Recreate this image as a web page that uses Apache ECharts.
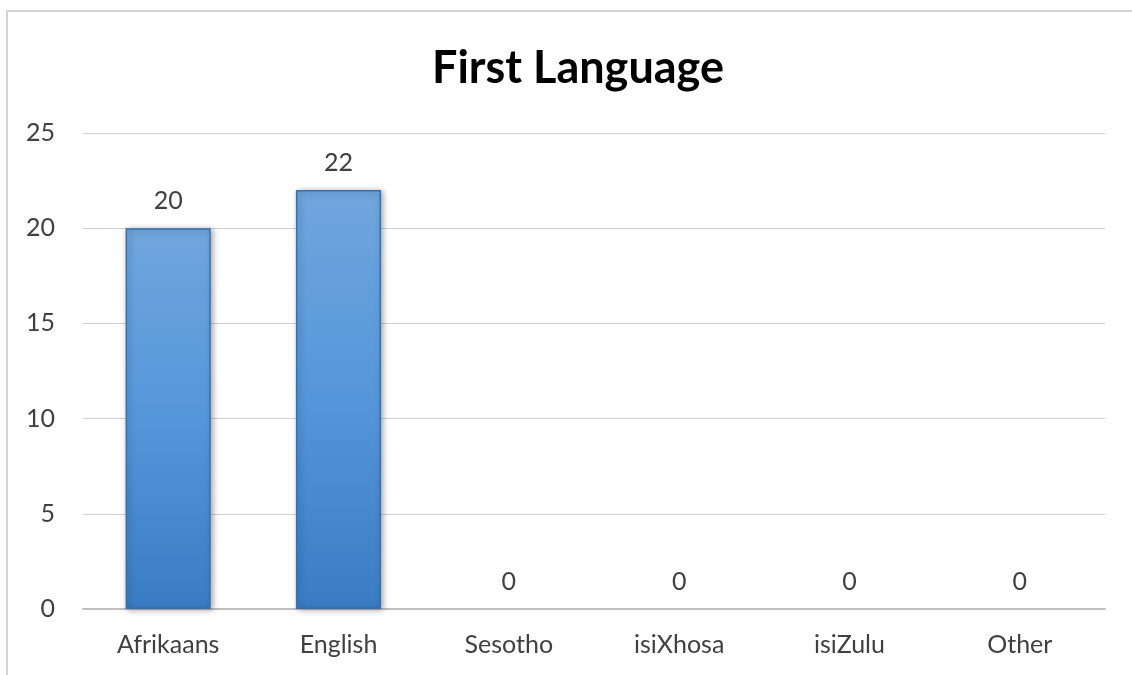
<!DOCTYPE html>
<html>
<head>
<meta charset="utf-8">
<script src="https://cdn.jsdelivr.net/npm/echarts@6/dist/echarts.min.js"></script>
<style>
  html, body { margin: 0; padding: 0; background: #fff; }
  #chart { width: 1132px; height: 675px; }
</style>
</head>
<body>
<div id="chart"></div>
<script>
// Respondents by first language
const titleText = 'First Language';
const languages = ['Afrikaans', 'English', 'Sesotho', 'isiXhosa', 'isiZulu', 'Other'];
const counts = [20, 22, 0, 0, 0, 0];
const yMin = 0;
const yMax = 25;
const yStep = 5;

const textColor = '#404040';
const fontFamily = 'Lato, "Open Sans", "Liberation Sans", sans-serif';

const barStyle = {
  color: new echarts.graphic.LinearGradient(0, 0, 0, 1, [
    { offset: 0, color: '#70a6dd' },
    { offset: 0.5, color: '#5596da' },
    { offset: 1, color: '#3a7cc4' }
  ]),
  borderColor: '#3a6fae',
  borderWidth: 1.5,
  shadowColor: 'rgba(0,0,0,0.35)',
  shadowBlur: 6,
  shadowOffsetX: 2,
  shadowOffsetY: 1
};

// Zero-height bars get no outline or shadow, so only their value label shows
const barData = counts.map(v => v === 0
  ? { value: v, itemStyle: { borderWidth: 0, shadowBlur: 0, shadowOffsetX: 0, shadowOffsetY: 0 } }
  : { value: v });

const chart = echarts.init(document.getElementById('chart'), null, { renderer: 'canvas' });

chart.setOption({
  backgroundColor: '#ffffff',
  animation: false,
  title: {
    text: titleText,
    left: 427,
    top: 41,
    textStyle: { fontFamily, fontSize: 45, fontWeight: 'bold', color: '#000000' }
  },
  graphic: [{
    type: 'rect',
    silent: true,
    z: -1,
    shape: { x: 7, y: 11, width: 1200, height: 800 },
    style: { fill: 'transparent', stroke: '#d4d4d4', lineWidth: 2 }
  }],
  grid: { left: 83, right: 27, top: 133, bottom: 66, containLabel: false },
  xAxis: {
    type: 'category',
    data: languages,
    axisLine: { lineStyle: { color: '#bfbfbf', width: 2 } },
    axisTick: { show: false },
    axisLabel: { color: textColor, fontFamily, fontSize: 25, margin: 23 }
  },
  yAxis: {
    type: 'value',
    min: yMin,
    max: yMax,
    interval: yStep,
    axisLine: { show: false },
    axisTick: { show: false },
    axisLabel: { color: textColor, fontFamily, fontSize: 25, margin: 28 },
    splitLine: { lineStyle: { color: '#d0d0d0', width: 1 } }
  },
  series: [{
    type: 'bar',
    data: barData,
    barWidth: '50%',
    itemStyle: barStyle,
    label: {
      show: true,
      position: 'top',
      distance: 15,
      color: textColor,
      fontFamily,
      fontSize: 25
    }
  }]
});
</script>
</body>
</html>
